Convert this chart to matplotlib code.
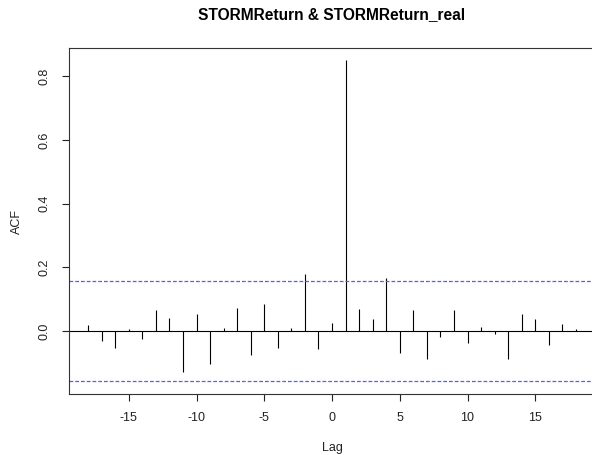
import numpy as np
import matplotlib
matplotlib.use("Agg")
import matplotlib.pyplot as plt

plt.rcParams['font.family'] = ['Liberation Sans', 'DejaVu Sans']
plt.rcParams['axes.unicode_minus'] = False

# cross-correlation values
lags = np.arange(-18, 19)
acf = [0.020, -0.030, -0.055, 0.007, -0.025, 0.066, 0.040, -0.128, 0.053, -0.103,
       0.008, 0.073, -0.075, 0.084, -0.052, 0.009, 0.179, -0.058, 0.025, 0.850,
       0.068, 0.038, 0.165, -0.070, 0.066, -0.089, -0.018, 0.066, -0.039, 0.013,
       -0.008, -0.088, 0.053, 0.038, -0.043, 0.022, 0.006]
ci = 0.158
title = "STORMReturn & STORMReturn_real"

fig = plt.figure(figsize=(5.92, 4.55), dpi=100)
ax = fig.add_axes([0.1159, 0.1334, 0.8899, 0.7611])

ax.vlines(lags, 0, acf, color='black', lw=0.8)
ax.axhline(0, color='black', lw=0.8)
for c in (ci, -ci):
    ax.axhline(c, color='#5a5aff', lw=0.9, dashes=(3.0, 1.6))

ax.set_xlim(-19.44, 19.44)
ax.set_ylim(-0.199, 0.889)
ax.set_xticks([-15, -10, -5, 0, 5, 10, 15])
ax.set_yticks([0.0, 0.2, 0.4, 0.6, 0.8])
ax.set_yticklabels(['0.0', '0.2', '0.4', '0.6', '0.8'], rotation=90, va='center')
ax.tick_params(direction='out', length=5, width=0.8, labelsize=9, pad=8, colors='#222222')
for s in ax.spines.values():
    s.set_linewidth(0.8)
    s.set_color('#333333')

ax.set_xlabel('Lag', fontsize=9, labelpad=13, color='#222222')
ax.set_ylabel('ACF', fontsize=9, labelpad=11, color='#222222')
fig.text(0.5608, 0.967, title, ha='center', va='center', fontsize=11.2, fontweight='bold')

fig.savefig('out.png', dpi=100)
